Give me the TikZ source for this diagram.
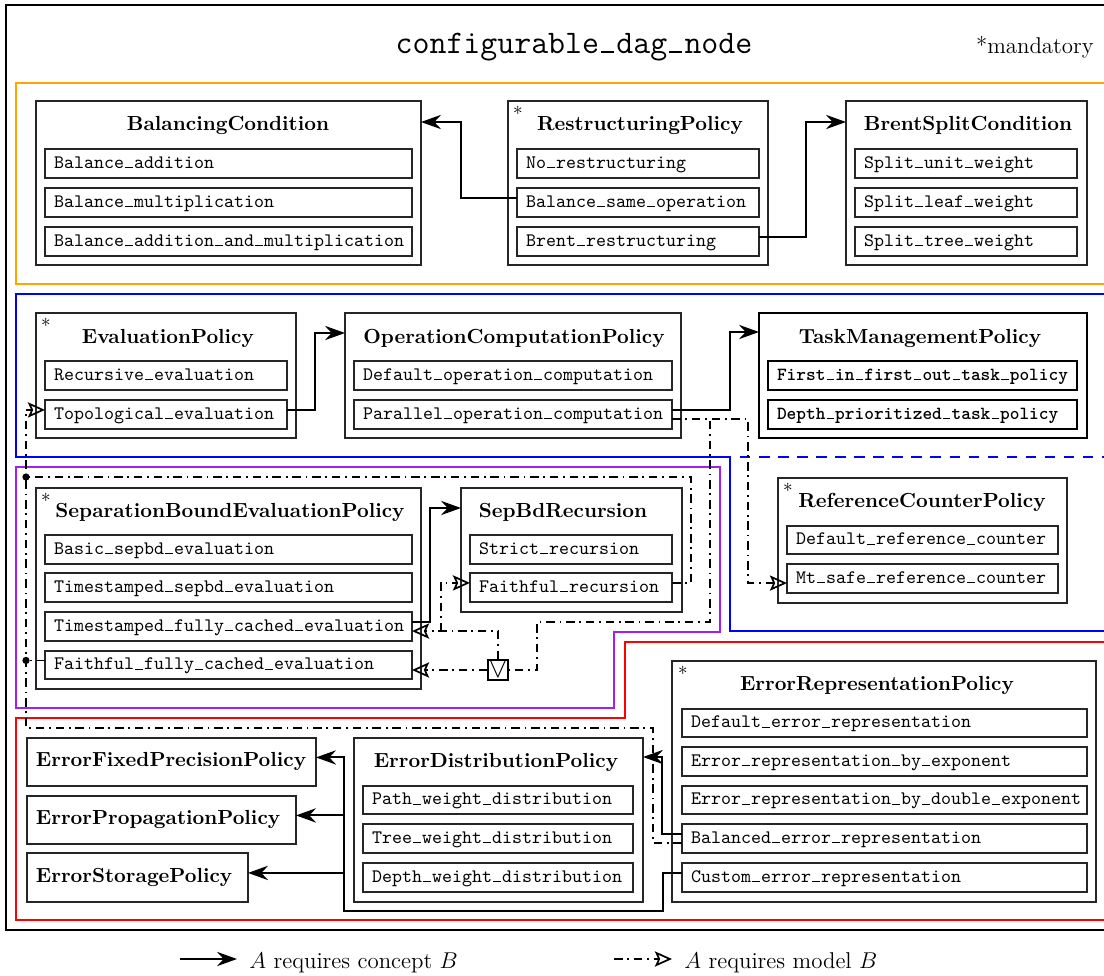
\documentclass[tikz,border=0pt]{standalone}
\usetikzlibrary{arrows.meta}
\definecolor{frOrange}{RGB}{255,165,0}
\definecolor{frBlue}{RGB}{0,0,255}
\definecolor{frPurple}{RGB}{160,32,240}
\definecolor{frRed}{RGB}{255,0,0}
\newcommand\hdfont{\fontsize{10.7}{13}\selectfont\bfseries}
% typewriter underscore drawn as a short rule on the baseline
\newcommand\us{\makebox[0.525em][c]{\rule{0.4em}{0.055em}}}
% entry box: [options]{name}{x1}{y1}{x2}{y2}{text}, corners in pixel units
\newcommand\pentry[7][]{%
  \pgfmathsetlengthmacro\pEW{(#5-#3)*0.525pt}%
  \pgfmathsetlengthmacro\pEH{(#6-#4)*0.525pt}%
  \pgfmathsetlengthmacro\pET{(#5-#3-18)*0.525pt}%
  \node[entrybox,#1,minimum width=\pEW,minimum height=\pEH,text width=\pET,anchor=north west] (#2) at (#3,#4) {#7};%
}
% class frame: [options]{name}{x1}{y1}{x2}{y2}
\newcommand\pbox[6][]{%
  \pgfmathsetlengthmacro\pEW{(#5-#3)*0.525pt}%
  \pgfmathsetlengthmacro\pEH{(#6-#4)*0.525pt}%
  \node[clsbox,#1,minimum width=\pEW,minimum height=\pEH,anchor=north west] (#2) at (#3,#4) {};%
}
\begin{document}
\begin{tikzpicture}[x=0.525pt,y=-0.525pt,
  frame/.style={line width=1.4pt},
  region/.style={line width=1.1pt},
  clsbox/.style={draw=black!85,line width=0.65pt,inner sep=0pt,outer sep=0pt},
  entrybox/.style={draw=black!85,line width=0.65pt,inner xsep=4.725pt,inner ysep=1pt,
    align=left,font=\ttfamily,text height=7pt,text depth=2pt,outer sep=0pt},
  taskentry/.style={draw=black,line width=1pt,font=\fontsize{9.7}{12}\selectfont\ttfamily\bfseries},
  single/.style={font=\hdfont},
  head/.style={font=\hdfont,anchor=base,inner sep=0pt},
  starmark/.style={anchor=north,inner sep=0pt},
  req/.style={line width=1pt,-{Stealth[length=10.5pt,width=7.5pt,inset=3.5pt]}},
  mline/.style={line width=0.9pt,dash pattern=on 4.5pt off 2.5pt on 0.9pt off 2.5pt},
  mreq/.style={mline,-{Stealth[open,length=9pt,width=8pt,inset=1.8pt,line width=0.9pt]}},
  orbox/.style={draw,line width=0.9pt,minimum size=10.5pt,inner sep=0pt,font=\Large},
  junction/.style={circle,fill,inner sep=0pt,minimum size=3.8pt}]
\useasboundingbox (0,0) rectangle (1104,976);
\clip (0,0) rectangle (1104,976);

% outer frame and title
\draw[frame] (1145,930) -- (6,930) -- (6,5) -- (1145,5);
\node[anchor=base,inner sep=0pt,font=\fontsize{17.28}{21}\selectfont\ttfamily] (title) at (574,53) {configurable\us dag\us node};
\node[anchor=base east,inner sep=0pt,font=\large] (mand) at (1094,53) {*mandatory};

% coloured regions
\draw[region,frOrange] (1145,83) -- (16,83) -- (16,284) -- (1145,284);
\draw[region,frBlue] (1145,294) -- (16,294) -- (16,457) -- (730,457) -- (730,631) -- (1145,631);
\draw[region,frBlue,dash pattern=on 5.5pt off 4.5pt] (740,457) -- (1145,457);
\draw[region,frPurple] (16,467) -- (720,467) -- (720,632) -- (614,632) -- (614,708) -- (16,708) -- cycle;
\draw[region,frRed] (1145,642) -- (625,642) -- (625,718) -- (16,718) -- (16,920) -- (1145,920);

% restructuring
\pbox{bc}{36}{101}{421}{265}
\node[head] (bch) at (228,130.5) {BalancingCondition};
\pentry{bc1}{45}{149}{412}{178}{Balance\us addition}
\pentry{bc2}{45}{188}{412}{217}{Balance\us multiplication}
\pentry{bc3}{45}{227}{412}{256}{Balance\us addition\us and\us multiplication}

\pbox{rp}{508}{101}{768}{265}
\node[starmark] (rps) at (518,106) {*};
\node[head] (rph) at (640,130.5) {RestructuringPolicy};
\pentry{rp1}{517}{149}{759}{178}{No\us restructuring}
\pentry{rp2}{517}{188}{759}{217}{Balance\us same\us operation}
\pentry{rp3}{517}{227}{759}{256}{Brent\us restructuring}

\pbox{bs}{846}{101}{1087}{265}
\node[head] (bsh) at (968,130.5) {BrentSplitCondition};
\pentry{bs1}{855}{149}{1077}{178}{Split\us unit\us weight}
\pentry{bs2}{855}{188}{1077}{217}{Split\us leaf\us weight}
\pentry{bs3}{855}{227}{1077}{256}{Split\us tree\us weight}

% evaluation
\pbox{ev}{36}{313}{296}{438}
\node[starmark] (evs) at (46,318) {*};
\node[head] (evh) at (168,343) {EvaluationPolicy};
\pentry{ev1}{45}{361}{287}{390}{Recursive\us evaluation}
\pentry{ev2}{45}{400}{287}{429}{Topological\us evaluation}

\pbox{oc}{345}{313}{681}{438}
\node[head] (och) at (514,343) {OperationComputationPolicy};
\pentry{oc1}{354}{361}{672}{390}{Default\us operation\us computation}
\pentry{oc2}{354}{400}{672}{429}{Parallel\us operation\us computation}

\pbox[draw=black,line width=1pt]{tm}{759}{313}{1087}{438}
\node[head] (tmh) at (920,343) {TaskManagementPolicy};
\pentry[taskentry]{tm1}{768}{361}{1077}{390}{First\us in\us first\us out\us task\us policy}
\pentry[taskentry]{tm2}{768}{400}{1077}{429}{Depth\us prioritized\us task\us policy}

% separation bound
\pbox{sb}{36}{488}{421}{689}
\node[starmark] (sbs) at (46,493) {*};
\node[head] (sbh) at (230,517) {SeparationBoundEvaluationPolicy};
\pentry{sb1}{45}{535}{412}{564}{Basic\us sepbd\us evaluation}
\pentry{sb2}{45}{573}{412}{602}{Timestamped\us sepbd\us evaluation}
\pentry{sb3}{45}{612}{412}{641}{Timestamped\us fully\us cached\us evaluation}
\pentry{sb4}{45}{651}{412}{679}{Faithful\us fully\us cached\us evaluation}

\pbox{sr}{461}{488}{682}{612}
\node[head] (srh) at (563,517) {SepBdRecursion};
\pentry{sr1}{470}{535}{672}{564}{Strict\us recursion}
\pentry{sr2}{470}{573}{672}{602}{Faithful\us recursion}

\pbox{rc}{778}{478}{1067}{603}
\node[starmark] (rcs) at (788,483) {*};
\node[head] (rch) at (922,507) {ReferenceCounterPolicy};
\pentry{rc1}{787}{526}{1058}{554}{Default\us reference\us counter}
\pentry{rc2}{787}{564}{1058}{593}{Mt\us safe\us reference\us counter}

\node[orbox] (or) at (498,670) {$\vee$};

% error handling
\pentry[single]{efp}{27}{738}{316}{786}{ErrorFixedPrecisionPolicy}
\pentry[single]{epp}{27}{796}{296}{844}{ErrorPropagationPolicy}
\pentry[single]{esp}{27}{853}{248}{902}{ErrorStoragePolicy}

\pbox{ed}{354}{738}{643}{902}
\node[head] (edh) at (496,767) {ErrorDistributionPolicy};
\pentry{ed1}{363}{786}{633}{814}{Path\us weight\us distribution}
\pentry{ed2}{363}{824}{633}{853}{Tree\us weight\us distribution}
\pentry{ed3}{363}{863}{633}{892}{Depth\us weight\us distribution}

\pbox{er}{672}{661}{1096}{902}
\node[starmark] (ers) at (683,666) {*};
\node[head] (erh) at (877,690) {ErrorRepresentationPolicy};
\pentry{er1}{682}{709}{1087}{737}{Default\us error\us representation}
\pentry{er2}{682}{747}{1087}{776}{Error\us representation\us by\us exponent}
\pentry{er3}{682}{786}{1087}{814}{Error\us representation\us by\us double\us exponent}
\pentry{er4}{682}{824}{1087}{853}{Balanced\us error\us representation}
\pentry{er5}{682}{863}{1087}{892}{Custom\us error\us representation}

% concept requirements
\draw[req] ([yshift=2.4pt]rp2.west) -| (461,122) -- (bc.east |- 0,122);
\draw[req] ([yshift=2.4pt]rp3.east) -| (806,122) -- (bs.west |- 0,122);
\draw[req] ([yshift=2.4pt]ev2.east) -| (315,333) -- (oc.west |- 0,333);
\draw[req] ([yshift=2.4pt]oc2.east) -| (730,332) -- (tm.west |- 0,332);
\draw[req] ([yshift=2.4pt]sb3.east) -| (430,508) -- (sr.west |- 0,508);
\draw[req] ([yshift=2.4pt]er4.west) -| (662,757) -- (ed.east |- 0,757);
\coordinate (bus) at (344,911);
\coordinate (eppin) at ([yshift=2.4pt]epp.east);
\coordinate (espin) at ([yshift=2.4pt]esp.east);
\draw[req] ([yshift=2.4pt]er5.west) -| (663,911) -- (bus) |- ([yshift=2.4pt]efp.east);
\draw[req] (bus |- eppin) -- (eppin);
\draw[req] (bus |- espin) -- (espin);

% model requirements
\draw[mreq] ([yshift=-2.4pt]oc2.east) -- ++(76,0) |- ([yshift=-2.4pt]rc2.west);
\draw[mline] ([yshift=-2.4pt]oc2.east) -| (710,622) -| (537,670) -- (or.east);
\draw[mreq] (or.west) -- (sb4.east |- or.west);
\draw[mreq] (or.north) |- ([yshift=-2.4pt]sb3.east);
\coordinate (tsj) at ([xshift=15.2pt,yshift=-2.4pt]sb3.east);
\draw[mreq] (tsj) |- ([yshift=2.4pt]sr2.west);
\coordinate (dotA) at (26,477);
\coordinate (busbot) at (26,728);
\coordinate (evin) at ([yshift=2.4pt]ev2.west);
\draw[mline] ([yshift=2.4pt]sr2.east) -- ++(19,0) |- (dotA);
\draw[mline] ([yshift=2.4pt]sb4.west) -- ++(-19,0) coordinate (dotB);
\draw[mreq] ([yshift=-2.4pt]er4.west) -- ++(-29,0) |- (busbot) -- (busbot |- evin) -- (evin);
\node[junction] (jA) at (dotA) {};
\node[junction] (jB) at (dotB) {};

% legend
\coordinate (lga) at (180,959);
\coordinate (lgb) at (237,959);
\draw[req] (lga) -- (lgb);
\node[anchor=base west,font=\large,inner sep=0pt] (lgt) at (249,968) {$A$ requires concept $B$};
\coordinate (lma) at (614,959);
\coordinate (lmb) at (672,959);
\draw[mreq] (lma) -- (lmb);
\node[anchor=base west,font=\large,inner sep=0pt] (lmt) at (684,968) {$A$ requires model $B$};
\end{tikzpicture}
\end{document}
